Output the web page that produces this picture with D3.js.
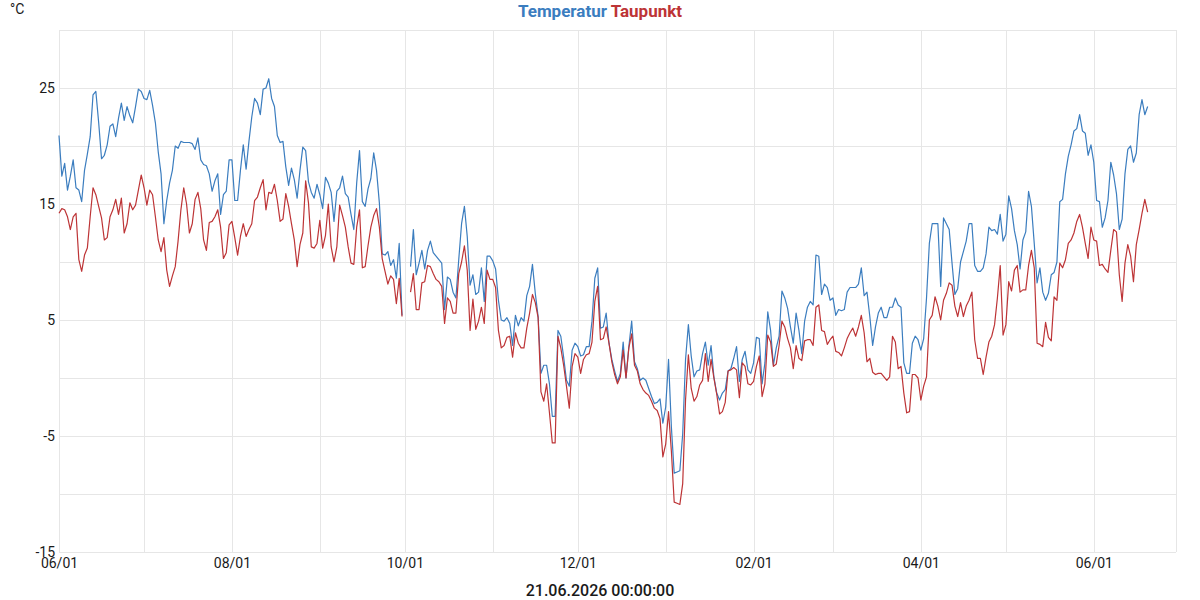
<!DOCTYPE html>
<html>
<head>
<meta charset="utf-8">
<script src="https://cdn.jsdelivr.net/npm/d3@7"></script>
<style>
  body { margin: 0; background: #fff; }
  text { font-family: Roboto, "Noto Sans", sans-serif; }
</style>
</head>
<body>
<script>
// daily values starting 2025-06-01, null = no data
var startDate = new Date(2025, 5, 1);
var stampText = "21.06.2026 00:00:00";
var seriesNames = ["Temperatur", "Taupunkt"];
var yTicks = [-15, -5, 5, 15, 25];

var temperatur = [
  20.9, 17.4, 18.5, 16.2, 17.4, 18.8, 16.4, 16.2, 15.2, 17.9,
  19.3, 20.8, 24.4, 24.7, 22.0, 18.9, 19.2, 20.1, 21.7, 21.9,
  20.8, 22.4, 23.7, 22.2, 23.4, 22.6, 22.0, 23.4, 24.9, 24.7,
  24.1, 24.0, 24.8, 23.5, 22.0, 19.5, 17.6, 13.3, 15.3, 16.8,
  17.9, 20.0, 19.8, 20.4, 20.3, 20.3, 20.3, 20.2, 19.7, 20.7,
  18.8, 18.4, 18.3, 17.6, 16.1, 17.0, 17.6, 14.1, 15.8, 16.1,
  18.8, 18.8, 15.3, 15.3, 17.9, 20.1, 18.0, 20.4, 22.5, 24.1,
  23.7, 22.7, 24.9, 25.0, 25.8, 24.1, 23.4, 20.9, 20.3, 20.4,
  18.2, 16.6, 18.1, 17.1, 15.5, 17.9, 19.9, 19.6, 16.9, 16.0,
  15.5, 16.7, 15.8, 14.6, 17.3, 16.8, 16.0, 13.5, 16.1, 16.4,
  17.4, 15.9, 15.6, 14.1, 12.8, 16.8, 19.6, 15.2, 14.8, 16.3,
  17.2, 19.4, 17.9, 15.1, 10.7, 10.6, 10.9, 9.7, 10.2, 8.6,
  11.6, 5.4, null, null, 9.6, 12.8, 8.9, 9.9, 11.0, 9.4,
  11.0, 11.8, 10.8, 10.5, 10.2, 9.9, 5.9, 8.7, 8.5, 7.4,
  6.9, 10.2, 13.3, 14.8, 12.2, 8.0, 8.9, 7.2, 7.4, 9.5,
  6.6, 10.5, 10.5, 10.1, 9.4, 6.7, 5.0, 4.9, 5.2, 4.7,
  2.8, 5.4, 4.5, 5.2, 4.9, 7.1, 7.9, 9.8, 7.3, 5.3,
  0.4, 1.1, 1.1, -0.5, -3.3, -3.3, 4.1, 3.6, 1.8, -0.2,
  -0.7, 2.4, 3.0, 2.7, 1.9, 2.0, 2.7, 2.7, 4.9, 8.6,
  9.5, 4.3, 4.4, 5.6, 3.0, 1.6, 0.6, -0.3, 0.4, 3.1,
  0.0, 2.7, 4.9, 1.4, 0.8, -0.2, 0.0, -0.2, -0.9, -1.6,
  -2.2, -2.1, -1.8, -3.9, -2.5, 1.6, -4.2, -8.2, -8.1, -8.0,
  -4.8, 1.6, 4.6, 1.9, 0.1, 0.6, 0.7, 2.1, 3.1, 1.1,
  2.8, 0.1, -1.3, -1.9, -1.3, -1.0, 0.6, 0.8, 1.7, 2.7,
  -0.3, 1.6, 2.3, 0.7, 0.4, 1.3, 3.5, 3.4, -0.5, 1.3,
  5.7, 4.1, 1.1, 2.6, 3.6, 7.5, 6.9, 6.0, 4.4, 3.0,
  5.6, 4.1, 2.1, 4.9, 6.1, 6.6, 6.3, 10.6, 10.5, 7.2,
  8.1, 7.8, 6.7, 6.9, 5.4, 5.9, 5.8, 5.9, 7.4, 7.8,
  7.8, 7.8, 8.1, 9.5, 7.1, 7.4, 5.3, 2.8, 4.4, 5.6,
  6.1, 5.2, 5.2, 6.1, 6.1, 6.9, 6.3, 6.1, 1.3, 0.4,
  0.4, 3.0, 3.6, 3.3, 2.4, 3.4, 6.9, 11.6, 13.3, 13.3,
  13.3, 7.9, 13.8, 13.3, 12.8, 9.9, 7.2, 7.7, 10.0, 10.9,
  11.8, 13.3, 13.3, 9.7, 9.2, 9.2, 9.5, 10.7, 13.0, 12.7,
  12.8, 12.4, 14.1, 11.8, 12.4, 15.7, 14.6, 12.7, 11.5, 9.4,
  11.9, 12.6, 16.1, 14.8, 11.6, 8.2, 9.5, 7.4, 6.7, 7.3,
  8.9, 9.1, 10.0, 15.2, 15.4, 17.6, 19.1, 20.1, 21.3, 21.5,
  22.7, 21.3, 21.1, 19.2, 20.1, 18.6, 15.3, 15.2, 13.0, 13.8,
  15.3, 18.6, 17.5, 15.9, 12.8, 13.7, 17.6, 19.7, 20.0, 18.6,
  19.4, 22.7, 24.0, 22.7, 23.4
];

var taupunkt = [
  14.2, 14.6, 14.5, 13.9, 12.8, 13.9, 14.2, 10.2, 9.2, 10.6,
  11.2, 13.9, 16.4, 15.8, 14.8, 13.8, 11.9, 12.1, 13.9, 14.5,
  15.4, 14.1, 15.5, 12.5, 13.3, 15.1, 14.5, 14.9, 16.2, 17.5,
  16.4, 14.9, 16.2, 15.8, 13.9, 11.9, 10.9, 12.1, 9.3, 7.9,
  8.8, 9.6, 11.8, 14.5, 16.4, 15.0, 12.5, 13.3, 15.4, 16.0,
  14.6, 11.9, 11.0, 13.4, 13.5, 13.9, 14.5, 13.0, 10.3, 10.8,
  13.2, 13.5, 12.1, 10.6, 12.2, 13.3, 12.2, 12.8, 13.3, 15.3,
  15.6, 16.4, 17.1, 14.5, 16.0, 15.9, 16.7, 15.3, 13.5, 13.7,
  15.9, 14.8, 13.3, 11.9, 9.6, 11.5, 12.5, 17.0, 15.1, 11.3,
  11.2, 11.6, 13.6, 11.2, 12.3, 15.0, 11.3, 10.0, 11.3, 14.9,
  14.0, 13.0, 11.3, 9.9, 9.8, 13.0, 14.5, 9.5, 9.6, 11.4,
  13.0, 14.0, 14.6, 13.0, 10.3, 9.2, 8.1, 8.8, 8.5, 6.4,
  8.6, 5.3, null, null, 7.4, 9.0, 5.9, 5.9, 8.2, 8.3,
  9.7, 9.6, 9.0, 8.5, 8.3, 7.9, 4.7, 6.9, 6.6, 5.6,
  5.6, 9.0, 10.0, 11.4, 9.3, 4.1, 6.8, 4.2, 4.9, 6.1,
  4.7, 9.3, 8.5, 8.5, 7.8, 4.1, 2.6, 2.8, 3.5, 3.6,
  1.8, 3.9, 3.0, 2.6, 2.6, 4.3, 5.6, 7.2, 6.5, 5.2,
  -1.2, -2.0, -0.5, -3.0, -5.6, -5.6, 3.6, 2.6, 1.1, -0.7,
  -2.6, 1.0, 2.1, 1.8, 0.4, 1.6, 2.0, 2.1, 3.1, 6.6,
  7.9, 3.3, 3.4, 4.4, 3.0, 1.4, 0.3, -0.5, 0.1, 2.4,
  0.0, 2.6, 3.8, 1.1, 0.6, -0.5, -1.0, -1.3, -1.5, -2.0,
  -2.6, -2.8, -3.5, -6.8, -5.7, -2.9, -6.3, -10.7, -10.8, -10.9,
  -9.1, -1.9, 2.0, -0.9, -2.0, -1.6, -0.6, -0.2, 2.1, -0.3,
  1.6, 0.0, -1.4, -3.1, -2.9, -2.1, 0.6, 0.7, 0.9, 0.7,
  -1.7, 1.3, 1.0, -0.5, -0.6, -0.3, 1.0, 1.9, -1.6, -0.5,
  3.7, 3.1, 1.0, 1.2, 2.8, 4.9, 4.4, 3.4, 2.6, 0.8,
  2.8, 1.7, 1.5, 3.2, 3.3, 3.3, 2.8, 6.1, 6.3, 4.1,
  4.0, 2.9, 3.3, 3.6, 2.3, 2.2, 1.9, 2.6, 3.4, 3.9,
  4.3, 3.6, 4.4, 5.4, 3.9, 1.4, 1.7, 0.5, 0.3, 0.4,
  0.4, 0.1, -0.2, 0.1, 3.6, 3.1, 0.8, 1.0, -1.3, -3.0,
  -2.9, 0.3, 0.3, 0.0, -1.9, -0.7, 0.1, 5.0, 5.4, 7.0,
  6.2, 5.0, 6.7, 7.3, 8.2, 8.0, 6.2, 5.3, 6.5, 5.3,
  6.2, 6.7, 7.4, 3.3, 1.7, 1.7, 0.3, 1.8, 3.1, 3.6,
  4.6, 6.9, 9.7, 3.7, 4.6, 8.3, 7.5, 9.3, 9.7, 7.4,
  7.6, 7.6, 9.7, 11.0, 9.5, 3.0, 2.9, 2.7, 4.8, 3.5,
  3.2, 7.0, 6.7, 9.9, 9.5, 10.2, 11.6, 11.9, 12.5, 13.5,
  14.1, 13.0, 11.6, 10.3, 13.0, 11.9, 11.8, 9.7, 9.8, 9.4,
  9.1, 11.0, 12.8, 12.6, 8.9, 6.6, 9.9, 11.5, 10.5, 8.3,
  11.5, 12.8, 14.2, 15.4, 14.3
];

var width = 1200, height = 600;
var margin = {top: 30, right: 24, bottom: 48, left: 59};
var colors = {Temperatur: "#3b7dbf", Taupunkt: "#bd3436"};
var gridColor = "#e6e6e6";

var svg = d3.select("body").append("svg")
    .attr("width", width)
    .attr("height", height);

var x = d3.scaleTime()
    .domain([startDate, new Date(2026, 5, 30)])
    .range([margin.left, width - margin.right]);

var y = d3.scaleLinear()
    .domain([-15, 30])
    .range([height - margin.bottom, margin.top]);

var months = d3.timeMonth.range(startDate, x.domain()[1]);

// grid
var grid = svg.append("g");
grid.selectAll("line.h")
    .data(d3.range(-15, 31, 5))
    .enter().append("line")
    .attr("x1", x.range()[0]).attr("x2", x.range()[1])
    .attr("y1", function (d) { return Math.round(y(d)) + 0.5; })
    .attr("y2", function (d) { return Math.round(y(d)) + 0.5; })
    .attr("stroke", gridColor);

grid.selectAll("line.v")
    .data(months.concat([x.domain()[1]]))
    .enter().append("line")
    .attr("y1", y.range()[0]).attr("y2", y.range()[1])
    .attr("x1", function (d) { return Math.round(x(d)) + 0.5; })
    .attr("x2", function (d) { return Math.round(x(d)) + 0.5; })
    .attr("stroke", gridColor);

// axes, labels every second month from the start
var xAxis = d3.axisBottom(x)
    .tickValues(months.filter(function (d, i) { return i % 2 === 0; }))
    .tickFormat(d3.timeFormat("%m/01"))
    .tickSize(0).tickPadding(6);

var gx = svg.append("g")
    .attr("transform", "translate(0," + y.range()[0] + ")")
    .call(xAxis);

var yAxis = d3.axisLeft(y)
    .tickValues(yTicks)
    .tickFormat(function (d) { return String(d); })
    .tickSize(0).tickPadding(4);

var gy = svg.append("g")
    .attr("transform", "translate(" + margin.left + ",0)")
    .call(yAxis);

[gx, gy].forEach(function (g) {
    g.select(".domain").remove();
    g.selectAll("text")
        .attr("font-size", 14)
        .attr("fill", "#1a1a1a")
        .style("font-family", "Roboto, sans-serif");
});

// lines
var line = d3.line()
    .defined(function (d) { return d.v !== null; })
    .x(function (d) { return x(d.date); })
    .y(function (d) { return y(d.v); });

function toPoints(values) {
    return values.map(function (v, i) {
        return {date: d3.timeDay.offset(startDate, i), v: v};
    });
}

var series = [
    {name: "Temperatur", values: temperatur},
    {name: "Taupunkt", values: taupunkt}
];

svg.append("g").selectAll("path")
    .data(series)
    .enter().append("path")
    .attr("fill", "none")
    .attr("stroke", function (d) { return colors[d.name]; })
    .attr("stroke-width", 1.2)
    .attr("stroke-linejoin", "round")
    .attr("d", function (d) { return line(toPoints(d.values)); });

// title
var title = svg.append("text")
    .attr("x", width / 2)
    .attr("y", 17)
    .attr("text-anchor", "middle")
    .attr("font-size", 17)
    .attr("font-weight", "bold");

seriesNames.forEach(function (n, i) {
    title.append("tspan")
        .attr("fill", colors[n])
        .text((i > 0 ? " " : "") + n);
});

svg.append("text")
    .attr("x", 10)
    .attr("y", 14)
    .attr("font-size", 14)
    .attr("fill", "#1a1a1a")
    .text("°C");

svg.append("text")
    .attr("x", width / 2)
    .attr("y", 596)
    .attr("text-anchor", "middle")
    .attr("font-size", 16)
    .attr("font-weight", 500)
    .attr("fill", "#1a1a1a")
    .text(stampText);
</script>
</body>
</html>
